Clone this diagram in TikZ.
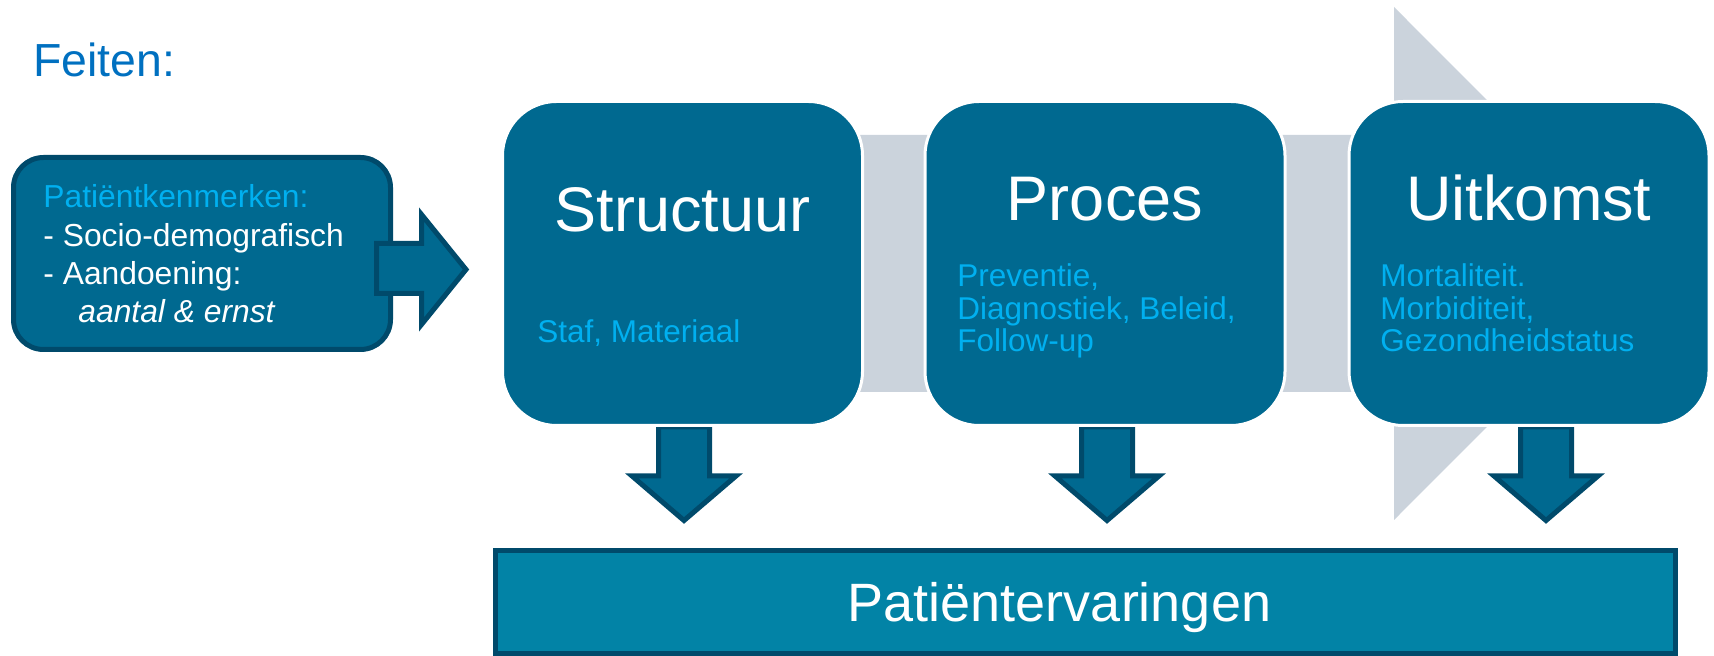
\documentclass[tikz,border=0pt]{standalone}
\usepackage{fontspec}
\setmainfont{Liberation Sans}
\usetikzlibrary{positioning}

\definecolor{boxblue}{HTML}{006990}
\definecolor{rimblue}{HTML}{004A6B}
\definecolor{lightblue}{HTML}{00B0F0}
\definecolor{titleblue}{HTML}{0070C0}
\definecolor{bandgrey}{HTML}{CBD3DC}
\definecolor{barblue}{HTML}{0283A6}

\tikzset{
  bigbox/.style={draw=white, line width=1.5pt, fill=boxblue, rounded corners=27pt,
    minimum width=180pt, minimum height=162pt, inner sep=0pt},
  infobox/.style={draw=rimblue, line width=2.5pt, fill=boxblue, rounded corners=15pt,
    minimum width=188.5pt, minimum height=96pt, inner sep=0pt},
  blockarrow/.style={draw=rimblue, line width=2.5pt, fill=boxblue},
  barbox/.style={draw=rimblue, line width=2.5pt, fill=barblue,
    minimum width=590pt, minimum height=51.5pt, inner sep=0pt},
  boxtitle/.style={text=white, font=\fontsize{31.5}{37}\selectfont, anchor=base, inner sep=0pt},
  % multi-line nodes: base is the baseline of the last line
  detail/.style={text=lightblue, font=\fontsize{15.75}{16.25}\selectfont, align=left,
    anchor=base west, inner sep=0pt}
}

\begin{document}
\begin{tikzpicture}[x=0.5pt, y=-0.5pt]
\useasboundingbox (0,0) rectangle (1714,656);

% grey arrow behind the three steps
\fill[bandgrey] (700,135) -- (1394,135) -- (1394,7) -- (1650,263.5)
  -- (1394,520) -- (1394,392) -- (700,392) -- cycle;

% arrows down to the bar
\foreach \ax in {684,1107,1546} {
\draw[blockarrow] (\ax-25.5,427) -- (\ax+25.5,427) -- (\ax+25.5,476) -- (\ax+52,476)
  -- (\ax,520.5) -- (\ax-52,476) -- (\ax-25.5,476) -- cycle;
}

\node[bigbox] (struct) at (682.5,263.5) {};
\node[bigbox] (proc) at (1105,263.5) {};
\node[bigbox] (outc) at (1529,263.5) {};

\node[boxtitle] (structtitle) at (struct |- 0,232) {Structuur};
\node[boxtitle] (proctitle) at (proc |- 0,221) {Proces};
\node[boxtitle] (outctitle) at (outc |- 0,221) {Uitkomst};

\node[detail] (structtext) at (537,343) {Staf, Materiaal};
\node[detail] (proctext) at (957,352) {Preventie,\\Diagnostiek, Beleid,\\Follow-up};
\node[detail] (outctext) at (1380,352) {Mortaliteit.\\Morbiditeit,\\Gezondheidstatus};

% patient box and its arrow
\node[infobox] (patient) at (202,253.5) {};
\draw[blockarrow] (376.5,243.5) -- (421.5,243.5) -- (421.5,214.5) -- (466,269.5)
  -- (421.5,324.5) -- (421.5,293.5) -- (376.5,293.5) -- cycle;
\node[text=white, font=\fontsize{15.9}{19.2}\selectfont, align=left, anchor=base west,
  inner sep=0pt] (patienttext) at (43,323)
  {\textcolor{lightblue}{Patiëntkenmerken:}\\- Socio-demografisch\\- Aandoening:\\
   \hspace*{17.5pt}\textit{aantal \& ernst}};

\node[text=titleblue, font=\fontsize{23.2}{28}\selectfont, anchor=base west,
  inner sep=0pt] (facts) at (33,77) {Feiten:};

% experiences bar
\node[barbox] (exper) at (1085.5,602) {};
\node[text=white, font=\fontsize{27}{32}\selectfont, anchor=base, inner sep=0pt]
  (expertext) at (1059.5,622) {Patiëntervaringen};
\end{tikzpicture}
\end{document}
